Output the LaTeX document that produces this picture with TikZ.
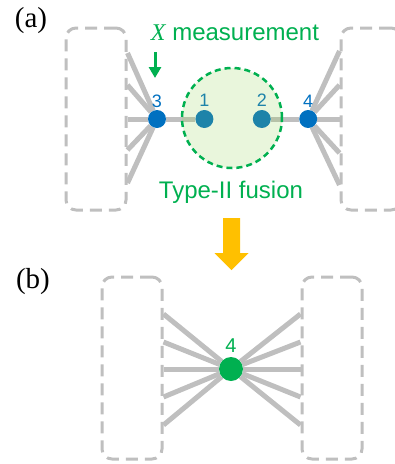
\documentclass[tikz,border=0pt]{standalone}
\usepackage{fontspec}
\setmainfont{Liberation Serif}
\setsansfont{Liberation Sans}
\usepackage{xcolor}
\usepackage{tikz}
\usetikzlibrary{positioning}
\usetikzlibrary{arrows.meta}
\usetikzlibrary{backgrounds}
\definecolor{nodeblue}{HTML}{0070C0}
\definecolor{fusegreen}{HTML}{00B050}
\definecolor{lightgreen}{HTML}{92D050}
\definecolor{leggray}{HTML}{BFBFBF}
\definecolor{arrowyellow}{HTML}{FFC000}
\tikzset{leg/.style = {line width=5pt, leggray}}
\tikzset{xmark/.style = {-{Triangle[length=11pt,width=12pt]}, line width=3pt, fusegreen}}

\begin{document}
\begin{tikzpicture}[x=1pt, y=-1pt,
    box/.style={draw=leggray, line width=3pt, dash pattern=on 12pt off 7pt, rounded corners=10pt, minimum width=60pt, minimum height=182pt, inner sep=0pt},
    main node/.style={circle, fill=nodeblue, minimum size=18pt, inner sep=0pt},
    num/.style={font=\sffamily\fontsize{18}{18}\selectfont, text=nodeblue, inner sep=0pt},
    caption/.style={font=\sffamily\fontsize{24}{24}\selectfont, text=fusegreen, anchor=base},
    tag/.style={font=\fontsize{29}{29}\selectfont, anchor=base}]

    \useasboundingbox (0,0) rectangle (395,464);

    % (a) before the fusion
    \node[tag] (a) at (31,27) {(a)};
    \node[box] (lbox) at (96,119) {};
    \node[box] (rbox) at (371,119) {};

    \node[main node, label={[num, label distance=2pt]above:3}] (3) at (157,119) {};
    \node[main node, label={[num, label distance=3pt]above:1}] (1) [right=29pt of 3] {};
    \node[main node, label={[num, label distance=3pt]above:2}] (2) [right=39pt of 1] {};
    \node[main node, label={[num, label distance=2pt]above:4}] (4) [right=28pt of 2] {};

    \begin{scope}[on background layer]
        \draw[leg] (3) -- (1);
        \draw[leg] (2) -- (4);
        \foreach \y [count=\i] in {53,85,119,150,183} {
            \coordinate (l\i) at (lbox.east |- 0,\y);
            \draw[leg] (3) -- (l\i);
        }
        \foreach \y [count=\i] in {51,85,119,153,185} {
            \coordinate (r\i) at (rbox.west |- 0,\y);
            \draw[leg] (4) -- (r\i);
        }
    \end{scope}

    \node[circle, minimum size=100pt, inner sep=0pt, fill=lightgreen, fill opacity=0.2,
          draw=fusegreen, line width=2.5pt, dash pattern=on 6pt off 4pt] (fuse) at (232,118) {};

    \node[caption] (meas) at (235,40) {{\rmfamily\itshape X} measurement};
    \node[caption] (type) at (231,198) {Type-II fusion};
    \coordinate (xtop) at (155,52);
    \coordinate (xtip) at (155,78);
    \draw[xmark] (xtop) -- (xtip);

    % arrow between the panels
    \fill[arrowyellow] (223,218) -- (240,218) -- (240,253) -- (248.5,253) -- (231.5,270) -- (214.5,253) -- (223,253) -- cycle;

    % (b) after the fusion
    \node[tag] (b) at (33,288) {(b)};
    \node[box] (lboxb) at (132,368) {};
    \node[box] (rboxb) at (332,368) {};
    \node[circle, fill=fusegreen, minimum size=24pt, inner sep=0pt,
          label={[num, text=fusegreen, font=\sffamily\fontsize{20}{20}\selectfont, label distance=4pt]above:4}] (4b) at (231,369) {};
    \begin{scope}[on background layer]
        \foreach \y [count=\i] in {314,342,369,397,425} {
            \coordinate (bl\i) at (lboxb.east |- 0,\y);
            \coordinate (br\i) at (rboxb.west |- 0,\y);
            \draw[leg] (4b) -- (bl\i);
            \draw[leg] (4b) -- (br\i);
        }
    \end{scope}
\end{tikzpicture}
\end{document}
